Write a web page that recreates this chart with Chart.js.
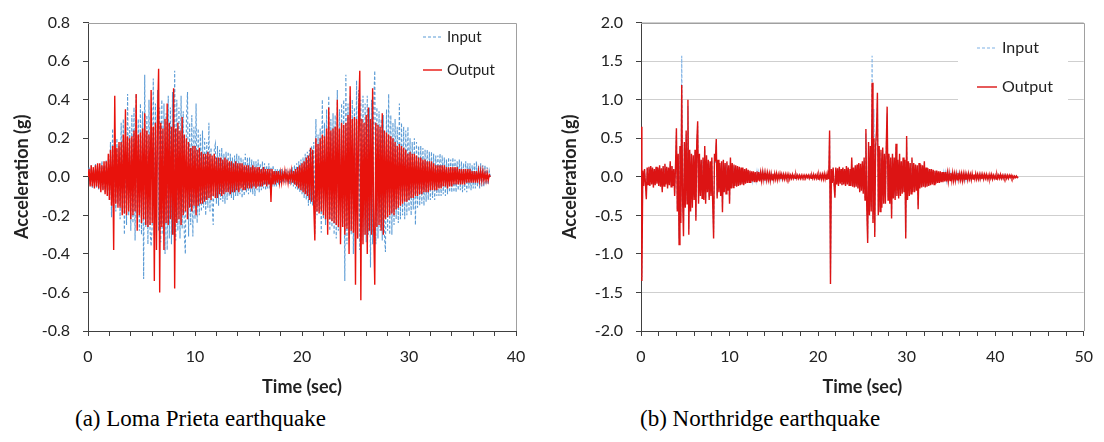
<!DOCTYPE html>
<html>
<head>
<meta charset="utf-8">
<script src="https://cdn.jsdelivr.net/npm/chart.js@4.4.0/dist/chart.umd.min.js"></script>
<style>
  html, body { margin: 0; padding: 0; background: #fff; }
  body { width: 1104px; height: 442px; position: relative; overflow: hidden; }
  .panel { position: absolute; top: 0; }
  .caption { position: absolute; top: 404px; font-family: "Liberation Serif", "Times New Roman", serif;
             font-size: 23px; line-height: 30px; color: #000; white-space: nowrap; }
</style>
</head>
<body>
<div class="panel" style="left:0"><canvas id="lomaChart" width="540" height="400"></canvas></div>
<div class="panel" style="left:540px"><canvas id="northChart" width="564" height="400"></canvas></div>
<div class="caption" style="left:75px">(a) Loma Prieta earthquake</div>
<div class="caption" style="left:640px">(b) Northridge earthquake</div>
<script>
const seriesLabels = ['Input', 'Output'];

// Loma Prieta record, sampled every 0.1 s (one row = 1 s)
const lomaStep = 0.1;
const lomaInput = [
   0.00,  0.05, -0.04,  0.06, -0.06,  0.04, -0.05,  0.07, -0.06,  0.05,
  -0.07,  0.06, -0.05,  0.08, -0.07,  0.06, -0.08,  0.09, -0.07,  0.08,
  -0.12,  0.18, -0.21,  0.25, -0.15,  0.12, -0.18,  0.20, -0.14,  0.16,
  -0.22,  0.28, -0.18,  0.30, -0.30,  0.22, -0.25,  0.43, -0.20,  0.26,
  -0.28,  0.32, -0.24,  0.36, -0.33,  0.43, -0.22,  0.30, -0.28,  0.38,
  -0.30,  0.34, -0.53,  0.53, -0.26,  0.32, -0.35,  0.40, -0.28, -0.36,
  -0.25,  0.51, -0.32,  0.38, -0.30,  0.45, -0.28,  0.36, -0.34,  0.40,
  -0.30,  0.38, -0.40,  0.33, -0.38,  0.42, -0.32,  0.36, -0.35,  0.44,
  -0.30,  0.55, -0.33,  0.40, -0.28,  0.36, -0.32,  0.42, -0.27,  0.34,
  -0.30, -0.40,  0.30,  0.44, -0.31,  0.28, -0.25,  0.32, -0.31,  0.26,
  -0.22,  0.38, -0.24,  0.25, -0.20,  0.22, -0.18,  0.24, -0.16,  0.20,
  -0.20,  0.18, -0.16,  0.28, -0.18,  0.15, -0.14, -0.25,  0.14,  0.17,
  -0.14,  0.16, -0.15,  0.14, -0.12,  0.15, -0.13,  0.12, -0.14,  0.13,
  -0.12,  0.13, -0.10,  0.12, -0.11,  0.10, -0.12,  0.11, -0.10,  0.12,
  -0.10,  0.11, -0.09,  0.10, -0.11,  0.09, -0.10,  0.12, -0.08,  0.10,
  -0.09,  0.10, -0.08,  0.09, -0.09,  0.08, -0.10,  0.08, -0.07,  0.09,
  -0.08,  0.07, -0.07,  0.08, -0.06,  0.07, -0.07,  0.06, -0.06,  0.07,
  -0.06,  0.05, -0.05,  0.06, -0.05,  0.04, -0.05,  0.04, -0.04,  0.04,
  -0.03,  0.04, -0.03,  0.03, -0.03,  0.04, -0.03,  0.03, -0.04,  0.04,
  -0.04,  0.05, -0.05,  0.06, -0.06,  0.07, -0.07,  0.08, -0.08,  0.09,
  -0.09,  0.10, -0.11,  0.12, -0.12,  0.13, -0.15,  0.14, -0.14,  0.16,
  -0.15,  0.18, -0.30,  0.30, -0.20,  0.22, -0.18,  0.25, -0.29,  0.40,
  -0.22,  0.28, -0.25,  0.35, -0.24,  0.42, -0.28,  0.30, -0.26,  0.33,
  -0.30,  0.32, -0.32,  0.45, -0.28,  0.35, -0.30,  0.38, -0.26,  0.40,
  -0.54,  0.53, -0.35,  0.38, -0.32,  0.42, -0.30,  0.40, -0.40,  0.36,
  -0.35,  0.50, -0.32,  0.45, -0.38,  0.40, -0.33,  0.42, -0.30,  0.38,
  -0.34,  0.42, -0.30,  0.36, -0.47,  0.40, -0.35,  0.38,  0.55, -0.35,
   0.36, -0.32,  0.34, -0.28,  0.30, -0.33,  0.32, -0.30, -0.39,  0.35,
  -0.28,  0.43, -0.30,  0.32, -0.30,  0.28, -0.25,  0.30, -0.22,  0.26,
  -0.24,  0.38, -0.22,  0.28, -0.20,  0.26, -0.22,  0.24, -0.20,  0.26,
  -0.18,  0.20, -0.20,  0.18, -0.17,  0.20, -0.25,  0.18, -0.16,  0.16,
  -0.15,  0.16, -0.14,  0.15, -0.15,  0.14, -0.13,  0.14, -0.12,  0.13,
  -0.12,  0.13, -0.11,  0.12, -0.12,  0.11, -0.10,  0.11, -0.10,  0.12,
  -0.10,  0.11, -0.09,  0.10, -0.10,  0.09, -0.09,  0.10, -0.08,  0.09,
  -0.08,  0.10, -0.08,  0.09, -0.08,  0.08, -0.07,  0.09, -0.07,  0.08,
  -0.08,  0.07, -0.07,  0.08, -0.08,  0.07, -0.06,  0.07, -0.07,  0.06,
  -0.06,  0.07, -0.06,  0.08, -0.05,  0.06, -0.06,  0.07, -0.05,  0.06,
  -0.05,  0.06, -0.04,  0.05, -0.04,  0.03,  0.00
];
const lomaOutput = [
   0.00,  0.04, -0.05,  0.06, -0.05,  0.05, -0.06,  0.06, -0.05,  0.07,
  -0.06,  0.07, -0.08,  0.06, -0.07,  0.08, -0.09,  0.08, -0.10,  0.12,
  -0.12,  0.14, -0.15,  0.16, -0.38,  0.42, -0.14,  0.15, -0.16,  0.18,
  -0.16,  0.18, -0.20,  0.22, -0.19,  0.35, -0.20,  0.21, -0.18,  0.20,
  -0.22,  0.21, -0.20,  0.24, -0.18,  0.43, -0.28,  0.22, -0.20,  0.23,
  -0.24,  0.25, -0.22,  0.33, -0.25,  0.24, -0.26,  0.22, -0.25,  0.45,
  -0.24,  0.26, -0.54,  0.28, -0.38,  0.30,  0.56, -0.60,  0.28, -0.26,
   0.25, -0.38,  0.30, -0.24,  0.38, -0.25,  0.28, -0.22,  0.26, -0.30,
   0.46, -0.58,  0.25, -0.24,  0.28, -0.22,  0.24, -0.25,  0.31, -0.20,
   0.22, -0.18,  0.20, -0.22,  0.18, -0.16,  0.15, -0.18,  0.16, -0.15,
   0.16, -0.20,  0.14, -0.15,  0.15, -0.14,  0.13, -0.14,  0.12, -0.13,
   0.12, -0.12,  0.13, -0.11,  0.12, -0.12,  0.11, -0.10,  0.12, -0.11,
   0.10, -0.11,  0.10, -0.09,  0.10, -0.10,  0.09, -0.09,  0.10, -0.08,
   0.09, -0.08,  0.08, -0.09,  0.08, -0.08,  0.07, -0.08,  0.08, -0.07,
   0.07, -0.08,  0.07, -0.06,  0.07, -0.07,  0.06, -0.07,  0.06, -0.06,
   0.06, -0.06,  0.05, -0.06,  0.06, -0.05,  0.05, -0.06,  0.05, -0.05,
   0.05, -0.05,  0.04, -0.05,  0.05, -0.04,  0.04, -0.05,  0.04, -0.04,
   0.04, -0.13,  0.04, -0.04,  0.03, -0.04,  0.03, -0.03,  0.03, -0.03,
   0.02, -0.03,  0.02, -0.02,  0.03, -0.02,  0.02, -0.03,  0.02, -0.02,
   0.03, -0.03,  0.03, -0.04,  0.04, -0.05,  0.05, -0.06,  0.06, -0.07,
   0.07, -0.08,  0.08, -0.09,  0.10, -0.10,  0.11, -0.12,  0.15, -0.13,
   0.14, -0.15, -0.33,  0.20, -0.18,  0.17, -0.19,  0.20, -0.18,  0.22,
  -0.20,  0.21, -0.22,  0.25, -0.30,  0.36, -0.22,  0.24, -0.23,  0.25,
  -0.24,  0.26, -0.25,  0.40, -0.26,  0.25, -0.35,  0.28, -0.26,  0.27,
  -0.30,  0.28, -0.27,  0.32, -0.40,  0.47, -0.28,  0.30, -0.29,  0.31,
  -0.56,  0.30, -0.32,  0.34,  0.55, -0.64,  0.30, -0.35,  0.28, -0.30,
   0.32, -0.40,  0.36, -0.28,  0.30, -0.30,  0.46, -0.27, -0.56,  0.28,
  -0.26,  0.27, -0.25,  0.26, -0.28,  0.33, -0.30,  0.24, -0.22,  0.23,
  -0.21,  0.22, -0.20,  0.21, -0.19,  0.20, -0.20,  0.18, -0.17,  0.16,
  -0.16,  0.17, -0.15,  0.16, -0.14,  0.15, -0.13,  0.14, -0.13,  0.12,
  -0.12,  0.13, -0.11,  0.12, -0.11,  0.12, -0.10,  0.11, -0.10,  0.10,
  -0.09,  0.10, -0.09,  0.09, -0.08,  0.09, -0.08,  0.08, -0.08,  0.08,
  -0.07,  0.08, -0.07,  0.07, -0.07,  0.06, -0.07,  0.06, -0.06,  0.06,
  -0.06,  0.06, -0.05,  0.06, -0.05,  0.05, -0.06,  0.05, -0.05,  0.05,
  -0.05,  0.05, -0.04,  0.05, -0.04,  0.05, -0.04,  0.04, -0.04,  0.04,
  -0.04,  0.04, -0.04,  0.04, -0.03,  0.04, -0.03,  0.04, -0.03,  0.03,
  -0.03,  0.03, -0.03,  0.03, -0.03,  0.03, -0.02,  0.03, -0.02,  0.03,
  -0.02,  0.02, -0.02,  0.02, -0.02,  0.01,  0.00
];

// Northridge record, sampled every 0.1 s (one row = 1 s)
const northStep = 0.1;
const northInput = [
   0.60, -1.30,  0.07, -0.11,  0.09, -0.07, -0.26,  0.11, -0.09,  0.12,
  -0.11,  0.13, -0.09,  0.11, -0.13,  0.09, -0.10,  0.12, -0.08,  0.11,
  -0.11,  0.14, -0.12,  0.10, -0.18,  0.13, -0.11,  0.15, -0.09,  0.12,
  -0.14,  0.11, -0.10,  0.18, -0.12,  0.13, -0.11,  0.09, -0.22,  0.14,
   0.58, -0.42,  0.28, -0.80,  0.36, -0.50,  1.57, -0.28, -0.60,  0.42,
  -0.36,  0.55, -0.32,  0.92, -0.68,  0.32, -0.40,  0.28, -0.36,  0.25,
  -0.27,  0.32, -0.52,  0.40,  0.66, -0.32,  0.27, -0.22,  0.20, -0.25,
   0.22, -0.27,  0.36, -0.32,  0.25, -0.18,  0.20, -0.27,  0.18, -0.22,
   0.22, -0.32, -0.72,  0.27,  0.18,  0.44, -0.25,  0.20, -0.18,  0.16,
  -0.22,  0.18, -0.42,  0.20, -0.18,  0.16, -0.20,  0.18, -0.16,  0.13,
  -0.32,  0.22, -0.13,  0.16, -0.13,  0.14, -0.11,  0.13, -0.12,  0.13,
  -0.11,  0.12, -0.10,  0.11, -0.09,  0.11, -0.10,  0.09, -0.08,  0.10,
  -0.07,  0.08, -0.06,  0.07, -0.07,  0.06, -0.05,  0.06, -0.06,  0.05,
  -0.05,  0.06, -0.05,  0.05, -0.05,  0.05, -0.04,  0.05, -0.04,  0.05,
  -0.04,  0.05, -0.04,  0.04, -0.04,  0.04, -0.04,  0.04, -0.03,  0.04,
  -0.03,  0.04, -0.03,  0.03, -0.03,  0.03, -0.03,  0.03, -0.03,  0.03,
  -0.03,  0.03, -0.02,  0.03, -0.02,  0.02, -0.02,  0.03, -0.02,  0.02,
  -0.02,  0.02, -0.02,  0.02, -0.02,  0.02, -0.02,  0.02, -0.02,  0.02,
  -0.02,  0.02, -0.01,  0.02, -0.01,  0.02, -0.01,  0.02, -0.01,  0.02,
  -0.02,  0.02, -0.02,  0.02, -0.02,  0.02, -0.02,  0.02, -0.02,  0.02,
  -0.02,  0.03, -0.02,  0.03, -0.02,  0.03, -0.03,  0.03, -0.03,  0.03,
  -0.03,  0.04, -0.03,  0.55, -1.30,  0.09, -0.07,  0.11, -0.09, -0.24,
   0.11, -0.09,  0.10, -0.11,  0.12, -0.08,  0.09, -0.10,  0.11, -0.09,
   0.09, -0.11,  0.13, -0.09,  0.11, -0.10,  0.09, -0.11,  0.22, -0.12,
   0.11, -0.13,  0.14, -0.12,  0.15, -0.14,  0.16, -0.18,  0.15, -0.16,
   0.18, -0.20,  0.22, -0.27,  0.56, -0.36, -0.80,  0.40, -0.45,  0.36,
  -0.40,  1.57, -0.55,  0.88, -0.72,  0.36,  0.55,  1.00, -0.45,  0.36,
  -0.40,  0.32, -0.36,  0.34, -0.32,  0.27, -0.32,  0.36,  0.82, -0.27,
   0.27, -0.32,  0.22, -0.50,  0.27, -0.25,  0.22, -0.27,  0.40, -0.22,
   0.20, -0.25,  0.27, -0.22,  0.18, -0.20,  0.22, -0.18,  0.20, -0.72,
   0.48, -0.27,  0.18, -0.22,  0.16, -0.20,  0.22, -0.18,  0.16, -0.18,
   0.14, -0.16,  0.13, -0.38,  0.16, -0.13,  0.14, -0.13,  0.13, -0.12,
   0.18, -0.13,  0.11, -0.12,  0.10, -0.11,  0.09, -0.10,  0.09, -0.09,
   0.08, -0.09,  0.07, -0.08,  0.07, -0.07,  0.06, -0.07,  0.06, -0.06,
   0.05, -0.06,  0.05, -0.05,  0.05, -0.05,  0.05, -0.05,  0.04, -0.05,
   0.04, -0.05,  0.04, -0.04,  0.04, -0.04,  0.04, -0.04,  0.04, -0.04,
   0.04, -0.04,  0.03, -0.04,  0.04, -0.04,  0.03, -0.04,  0.03, -0.03,
   0.03, -0.03,  0.03, -0.03,  0.03, -0.03,  0.03, -0.03,  0.03, -0.03,
   0.03, -0.03,  0.02, -0.03,  0.03, -0.02,  0.03, -0.02,  0.02, -0.02,
   0.02, -0.02,  0.02, -0.02,  0.02, -0.02,  0.02, -0.02,  0.02, -0.02,
   0.02, -0.02,  0.02, -0.02,  0.02, -0.02,  0.02, -0.02,  0.02, -0.02,
   0.02, -0.02,  0.02, -0.02,  0.02, -0.02,  0.01, -0.01,  0.02, -0.01,
   0.01, -0.01,  0.01, -0.01,  0.01, -0.01,  0.00
];
const northOutput = [
   0.65, -1.35,  0.08, -0.12,  0.10, -0.08, -0.29,  0.12, -0.10,  0.13,
  -0.12,  0.14, -0.10,  0.12, -0.14,  0.10, -0.11,  0.13, -0.09,  0.12,
  -0.12,  0.15, -0.13,  0.11, -0.20,  0.14, -0.12,  0.17, -0.10,  0.13,
  -0.15,  0.12, -0.11,  0.20, -0.13,  0.14, -0.12,  0.10, -0.25,  0.15,
   0.63, -0.45,  0.30, -0.88,  0.40, -0.60,  1.19, -0.30, -0.77,  0.45,
  -0.40,  0.60, -0.35,  1.00, -0.75,  0.35, -0.45,  0.30, -0.40,  0.28,
  -0.30,  0.35, -0.57,  0.45,  0.72, -0.35,  0.30, -0.25,  0.22, -0.28,
   0.25, -0.30,  0.40, -0.35,  0.28, -0.20,  0.22, -0.30,  0.20, -0.25,
   0.25, -0.35, -0.80,  0.30,  0.20,  0.49, -0.28,  0.22, -0.20,  0.18,
  -0.25,  0.20, -0.46,  0.22, -0.20,  0.18, -0.22,  0.20, -0.18,  0.15,
  -0.35,  0.25, -0.15,  0.18, -0.14,  0.16, -0.12,  0.15, -0.13,  0.14,
  -0.12,  0.13, -0.11,  0.12, -0.10,  0.12, -0.11,  0.10, -0.09,  0.11,
  -0.08,  0.09, -0.07,  0.08, -0.08,  0.07, -0.06,  0.07, -0.07,  0.06,
  -0.06,  0.07, -0.05,  0.06, -0.06,  0.05, -0.05,  0.06, -0.04,  0.05,
  -0.05,  0.05, -0.04,  0.05, -0.04,  0.04, -0.05,  0.04, -0.04,  0.04,
  -0.04,  0.04, -0.03,  0.04, -0.04,  0.03, -0.03,  0.04, -0.03,  0.03,
  -0.03,  0.03, -0.03,  0.03, -0.03,  0.03, -0.02,  0.03, -0.03,  0.02,
  -0.02,  0.03, -0.02,  0.02, -0.02,  0.03, -0.02,  0.02, -0.02,  0.02,
  -0.02,  0.02, -0.02,  0.02, -0.01,  0.02, -0.02,  0.02, -0.01,  0.02,
  -0.02,  0.02, -0.02,  0.02, -0.02,  0.03, -0.02,  0.02, -0.02,  0.03,
  -0.03,  0.03, -0.02,  0.03, -0.03,  0.03, -0.03,  0.04, -0.03,  0.03,
  -0.04,  0.04, -0.03,  0.60, -1.39,  0.10, -0.08,  0.12, -0.10, -0.27,
   0.12, -0.10,  0.11, -0.12,  0.13, -0.09,  0.10, -0.11,  0.12, -0.10,
   0.10, -0.12,  0.14, -0.10,  0.12, -0.11,  0.10, -0.12,  0.25, -0.13,
   0.12, -0.14,  0.15, -0.13,  0.16, -0.15,  0.18, -0.20,  0.17, -0.18,
   0.20, -0.22,  0.25, -0.30,  0.62, -0.40, -0.86,  0.45, -0.50,  0.40,
  -0.45,  1.22, -0.60,  0.50, -0.78,  0.40,  0.60,  1.09, -0.50,  0.40,
  -0.45,  0.35, -0.40,  0.38, -0.35,  0.30, -0.35,  0.40,  0.91, -0.30,
   0.30, -0.35,  0.25, -0.54,  0.30, -0.28,  0.25, -0.30,  0.43, -0.25,
   0.22, -0.28,  0.30, -0.25,  0.20, -0.22,  0.25, -0.20,  0.22, -0.80,
   0.53, -0.30,  0.20, -0.25,  0.18, -0.22,  0.25, -0.20,  0.18, -0.20,
   0.16, -0.18,  0.15, -0.42,  0.18, -0.15,  0.16, -0.14,  0.15, -0.13,
   0.20, -0.14,  0.12, -0.13,  0.11, -0.12,  0.10, -0.11,  0.10, -0.10,
   0.09, -0.10,  0.08, -0.09,  0.08, -0.08,  0.07, -0.08,  0.07, -0.07,
   0.06, -0.07,  0.06, -0.06,  0.06, -0.06,  0.05, -0.06,  0.05, -0.05,
   0.05, -0.05,  0.05, -0.05,  0.04, -0.05,  0.04, -0.04,  0.05, -0.04,
   0.04, -0.04,  0.04, -0.05,  0.04, -0.04,  0.04, -0.04,  0.03, -0.04,
   0.04, -0.03,  0.03, -0.04,  0.04, -0.03,  0.03, -0.03,  0.04, -0.03,
   0.03, -0.03,  0.03, -0.03,  0.03, -0.03,  0.03, -0.03,  0.03, -0.02,
   0.03, -0.03,  0.02, -0.03,  0.03, -0.02,  0.03, -0.03,  0.02, -0.02,
   0.02, -0.03,  0.03, -0.02,  0.02, -0.02,  0.03, -0.02,  0.02, -0.02,
   0.02, -0.02,  0.02, -0.02,  0.02, -0.02,  0.02, -0.01,  0.02, -0.02,
   0.01, -0.02,  0.01, -0.01,  0.01, -0.01,  0.00
];

const toPoints = (values, step) => values.map((v, i) => ({ x: +(i * step).toFixed(1), y: v }));

// frame (top/right) + in-plot legend, like the Excel original
const panelDecor = {
  id: 'panelDecor',
  beforeDatasetsDraw(chart, args, opts) {
    if (!opts.box) return;
    const ctx = chart.ctx;
    ctx.save();
    ctx.fillStyle = '#fff';
    ctx.fillRect(opts.box[0], opts.box[1], opts.box[2], opts.box[3]);
    ctx.restore();
  },
  afterDraw(chart, args, opts) {
    const { ctx, chartArea: a } = chart;
    ctx.save();
    ctx.strokeStyle = '#a0a0a0';
    ctx.lineWidth = 1;
    ctx.beginPath();
    ctx.moveTo(a.left, Math.round(a.top) + 0.5);
    ctx.lineTo(Math.round(a.right) + 0.5, Math.round(a.top) + 0.5);
    ctx.lineTo(Math.round(a.right) + 0.5, a.bottom);
    ctx.stroke();

    ctx.font = opts.font;
    ctx.textBaseline = 'middle';
    chart.data.datasets.forEach((ds, i) => {
      const y = opts.rows[i];
      ctx.strokeStyle = ds.borderColor;
      ctx.lineWidth = ds.borderWidth;
      ctx.setLineDash(ds.borderDash || []);
      ctx.beginPath();
      ctx.moveTo(opts.x0, y);
      ctx.lineTo(opts.x1, y);
      ctx.stroke();
      ctx.setLineDash([]);
      ctx.fillStyle = '#222';
      ctx.fillText(ds.label, opts.tx, y);
    });
    ctx.restore();
  }
};

function makeChart(id, cfg) {
  const tickFont = { family: 'Lato', size: 16 };
  const titleFont = { family: 'Lato', size: 18, weight: 'bold' };
  return new Chart(document.getElementById(id), {
    type: 'line',
    data: {
      datasets: [
        {
          label: seriesLabels[0],
          data: toPoints(cfg.input, cfg.step),
          borderColor: cfg.inputColor,
          borderWidth: 1.1,
          borderDash: [3, 2],
          pointRadius: 0,
          order: 1
        },
        {
          label: seriesLabels[1],
          data: toPoints(cfg.output, cfg.step),
          borderColor: cfg.outputColor,
          borderWidth: 1.4,
          pointRadius: 0,
          order: 0
        }
      ]
    },
    options: {
      responsive: false,
      animation: false,
      devicePixelRatio: 1,
      layout: { padding: cfg.padding },
      plugins: {
        legend: { display: false },
        tooltip: { enabled: false },
        panelDecor: cfg.decor
      },
      scales: {
        x: {
          type: 'linear',
          min: 0,
          max: cfg.xMax,
          afterFit: s => { s.height = cfg.xHeight; },
          border: { color: '#404040', width: 1 },
          grid: { drawOnChartArea: false, tickLength: 5, tickColor: '#404040' },
          ticks: {
            stepSize: 2,
            autoSkip: false,
            maxRotation: 0,
            padding: 11,
            color: '#222',
            font: tickFont,
            callback: v => (Math.abs(v % 10) < 1e-6 ? String(v) : '')
          },
          title: { display: true, text: 'Time (sec)', color: '#222', font: titleFont, padding: { top: 0, bottom: 2 } }
        },
        y: {
          min: cfg.yMin,
          max: cfg.yMax,
          afterFit: s => { s.width = cfg.yWidth; },
          border: { color: '#404040', width: 1 },
          grid: {
            drawOnChartArea: cfg.yGrid,
            color: '#cfcfcf',
            tickLength: 5,
            tickColor: '#404040'
          },
          ticks: {
            stepSize: cfg.yStep,
            padding: 13,
            color: '#222',
            font: tickFont,
            callback: v => v.toFixed(1)
          },
          title: { display: true, text: 'Acceleration (g)', color: '#222', font: titleFont, padding: { top: cfg.yTitlePad, bottom: 0 } }
        }
      }
    },
    plugins: [panelDecor]
  });
}

makeChart('lomaChart', {
  input: lomaInput,
  output: lomaOutput,
  step: lomaStep,
  inputColor: '#5b9bd5',
  outputColor: '#e8120c',
  xMax: 40,
  yMin: -0.8,
  yMax: 0.8,
  yStep: 0.2,
  yGrid: false,
  yWidth: 88,
  xHeight: 69,
  yTitlePad: 11,
  padding: { top: 10, right: 24, bottom: 0, left: 0 },
  decor: { font: '15px Lato', x0: 423, x1: 442, tx: 447, rows: [37, 70] }
});

makeChart('northChart', {
  input: northInput,
  output: northOutput,
  step: northStep,
  inputColor: '#7fb2e5',
  outputColor: '#dc1414',
  xMax: 50,
  yMin: -2,
  yMax: 2,
  yStep: 0.5,
  yGrid: true,
  yWidth: 101,
  xHeight: 69,
  yTitlePad: 19,
  padding: { top: 14, right: 14, bottom: 0, left: 0 },
  decor: { font: '16px Lato', x0: 437, x1: 457, tx: 462, rows: [48, 87], box: [418, 28, 110, 80] }
});
</script>
</body>
</html>
